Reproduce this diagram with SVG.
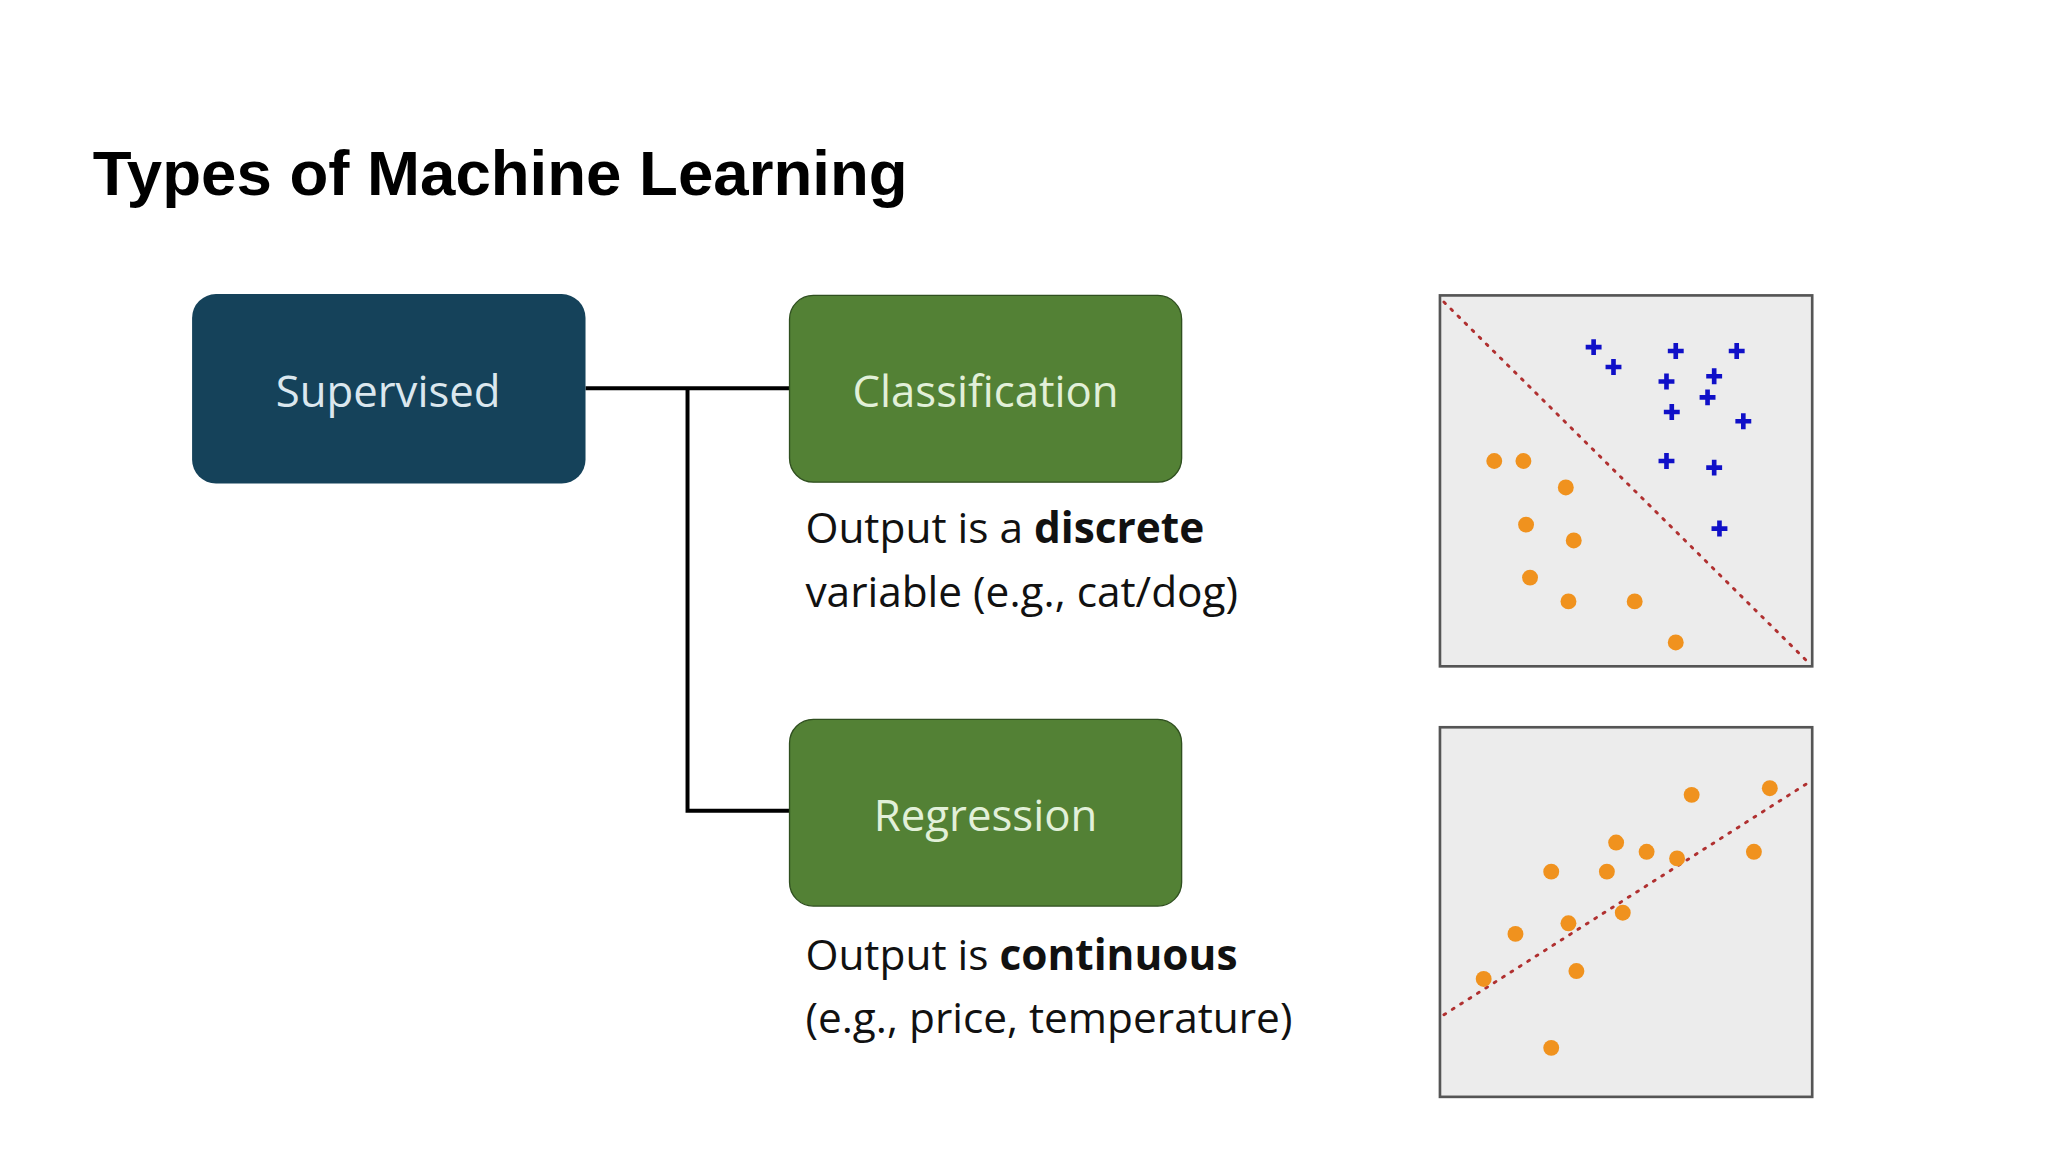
<svg xmlns="http://www.w3.org/2000/svg" width="2048" height="1152" viewBox="0 0 2048 1152">
<style>
.t{font-family:"Liberation Sans",Arial,sans-serif}
.node{font-family:"Open Sans","Liberation Sans",sans-serif;font-size:33px;text-anchor:middle}
.desc{font-family:"Open Sans","Liberation Sans",sans-serif;font-size:32px;fill:#111}
.plot{fill:#ececec;stroke:#555;stroke-width:2}
.o{fill:#f0921e}
.x{stroke:#1010c8;stroke-width:3.5}
.dl{stroke:#b03030;stroke-width:2.2;stroke-dasharray:1.5 6;stroke-linecap:round;fill:none}
</style>
<rect width="2048" height="1152" fill="#fff"/>
<g transform="scale(1.32471)">
<text class="t" x="70" y="147" font-size="48" font-weight="bold" fill="#000">Types of Machine Learning</text>
<g id="connectors" fill="none" stroke="#000" stroke-width="3">
<path d="M442 293 H596"/>
<path d="M519 293 V612 H596"/>
</g>
<g id="supervised"><rect x="145" y="222" width="297" height="143" rx="18" fill="#15425a"/><text class="node" x="293" y="307" fill="#dbe7ee">Supervised</text></g>
<g id="classification"><rect x="596" y="223" width="296" height="141" rx="18" fill="#538135" stroke="#2f4f1f" stroke-width="1"/><text class="node" x="744" y="307" fill="#e2f0d9">Classification</text>
<text class="desc" x="608" y="410">Output is a <tspan font-weight="bold">discrete</tspan></text>
<text class="desc" x="608" y="458">variable (e.g., cat/dog)</text></g>
<g id="regression"><rect x="596" y="543" width="296" height="141" rx="18" fill="#538135" stroke="#2f4f1f" stroke-width="1"/><text class="node" x="744" y="627" fill="#e2f0d9">Regression</text>
<text class="desc" x="608" y="732">Output is <tspan font-weight="bold">continuous</tspan></text>
<text class="desc" x="608" y="780">(e.g., price, temperature)</text></g>
<g id="plot-classification">
<rect class="plot" x="1087" y="223" width="281" height="280"/>
<line class="dl" x1="1090" y1="228" x2="1365" y2="500"/>
<g class="x">
<path d="M1197 262h12M1203 256v12M1212 277h12M1218 271v12M1259 265h12M1265 259v12M1305 265h12M1311 259v12M1252 288h12M1258 282v12M1288 284h12M1294 278v12M1283 300h12M1289 294v12M1256 311h12M1262 305v12M1310 318h12M1316 312v12M1252 348h12M1258 342v12M1288 353h12M1294 347v12M1292 399h12M1298 393v12"/>
</g>
<g class="o">
<circle cx="1128" cy="348" r="6"/><circle cx="1150" cy="348" r="6"/><circle cx="1182" cy="368" r="6"/><circle cx="1152" cy="396" r="6"/><circle cx="1188" cy="408" r="6"/><circle cx="1155" cy="436" r="6"/><circle cx="1184" cy="454" r="6"/><circle cx="1234" cy="454" r="6"/><circle cx="1265" cy="485" r="6"/>
</g>
</g>
<g id="plot-regression">
<rect class="plot" x="1087" y="549" width="281" height="279"/>
<line class="dl" x1="1090" y1="766" x2="1368" y2="589"/>
<g class="o">
<circle cx="1277" cy="600" r="6"/><circle cx="1336" cy="595" r="6"/><circle cx="1220" cy="636" r="6"/><circle cx="1243" cy="643" r="6"/><circle cx="1266" cy="648" r="6"/><circle cx="1171" cy="658" r="6"/><circle cx="1213" cy="658" r="6"/><circle cx="1324" cy="643" r="6"/><circle cx="1225" cy="689" r="6"/><circle cx="1184" cy="697" r="6"/><circle cx="1144" cy="705" r="6"/><circle cx="1120" cy="739" r="6"/><circle cx="1190" cy="733" r="6"/><circle cx="1171" cy="791" r="6"/>
</g>
</g>
</g>
</svg>
